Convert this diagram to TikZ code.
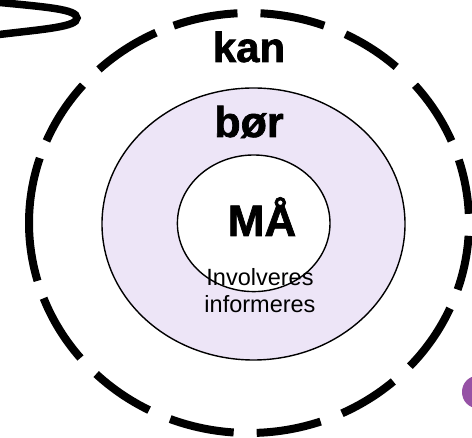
\documentclass[tikz,border=0pt]{standalone}
\usepackage{fontspec}
\setmainfont{Liberation Sans}
\newfontfamily\heavyfont[FakeBold=1.6]{Liberation Sans Bold}
\usetikzlibrary{shapes.geometric}
\definecolor{lav}{RGB}{237,229,247}
\definecolor{blob}{RGB}{150,82,165}
\tikzset{
  dashseg/.style={line width=8pt, line cap=butt, black},
  ring/.style={draw=black, ellipse, inner sep=0pt, line width=1.4pt},
  biglabel/.style={anchor=base, inner sep=0pt, font=\heavyfont\fontsize{42}{50}\selectfont},
  smalllabel/.style={anchor=base, inner sep=0pt, font=\fontsize{23.5}{28}\selectfont},
}
\begin{document}
\begin{tikzpicture}[x=1pt,y=1pt]
\useasboundingbox (0,0) rectangle (472,438);
\clip (0,0) rectangle (472,438);
\fill[white] (0,0) rectangle (472,438);
% outer dashed ring
\coordinate (c) at (249,215);
\foreach \a/\b in {93/110, 70/87, 48/64, 23/41, 2.5/17.5, -18.5/-3.5, -43/-24,
  -65/-49, -88/-71, -111/-94, -134/-117, -159/-140, 162/196, 139/157, 115/133}
  \draw[dashseg] ([shift={(\a:220pt and 210pt)}]c) arc[start angle=\a, end angle=\b, x radius=220pt, y radius=210pt];
% middle ring
\node[ring, fill=lav, minimum width=303pt, minimum height=272pt] (bor) at (253.5,214) {};
% inner ring
\node[ring, fill=white, minimum width=152.6pt, minimum height=136.6pt] (maa) at (253.7,214.7) {};
% labels
\node[biglabel] (lkan) at (249,376) {kan};
\node[biglabel, font=\heavyfont\fontsize{43}{50}\selectfont] (lbor) at (249,301) {bør};
\node[biglabel, font=\heavyfont\fontsize{44}{50}\selectfont] (lmaa) at (262,202) {MÅ};
\node[smalllabel] (linv) at (260,152) {Involveres};
\node[smalllabel] (linf) at (260,125) {informeres};
% stray stroke top-left
\draw[line width=7.5pt, line cap=round] (-5,436) .. controls (45,431) and (77,429) .. (77,420)
  .. controls (77,411) and (45,409) .. (-5,403);
% purple blob bottom-right
\fill[blob] (477,46) ellipse[x radius=15pt, y radius=16pt];
\end{tikzpicture}
\end{document}
